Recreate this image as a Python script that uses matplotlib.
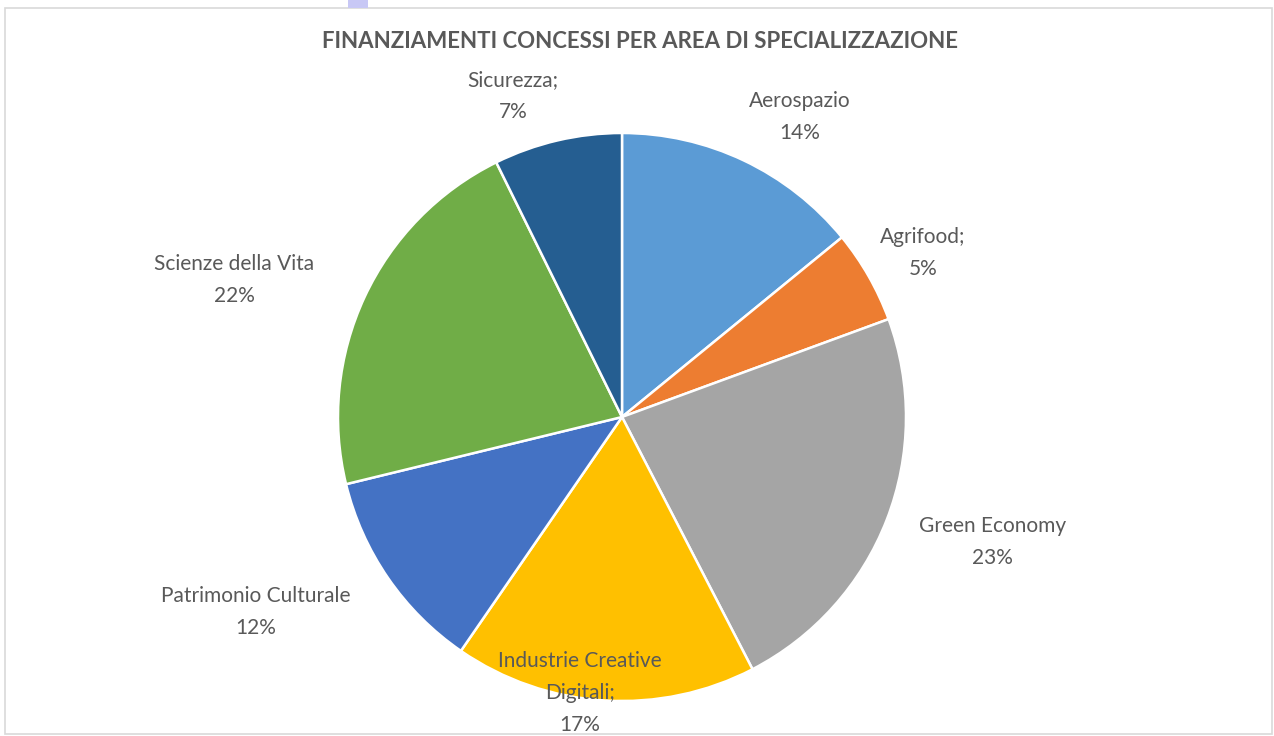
import matplotlib
matplotlib.use("Agg")
import matplotlib.pyplot as plt
from matplotlib.patches import Rectangle

# ---- data ----
categories = ["Aerospazio", "Agrifood;", "Green Economy", "Industrie Creative\nDigitali;",
              "Patrimonio Culturale", "Scienze della Vita", "Sicurezza;"]
values = [14.1, 5.3, 23.0, 17.2, 11.6, 21.5, 7.3]
pct_labels = [14, 5, 23, 17, 12, 22, 7]
title = "FINANZIAMENTI CONCESSI PER AREA DI SPECIALIZZAZIONE"

# ---- style ----
colors = ["#5B9BD5", "#ED7D31", "#A5A5A5", "#FFC000", "#4472C4", "#70AD47", "#255E91"]
label_pos = [(0.627, 1.056), (1.060, 0.577), (1.306, -0.440), (-0.148, -0.972),
             (-1.289, -0.687), (-1.366, 0.482), (-0.384, 1.130)]
text_color = "#595959"
FONT = "Lato"

W, H = 1274, 736
fig = plt.figure(figsize=(W / 100, H / 100), dpi=100)
fig.patch.set_facecolor("white")

# frame around chart
fig.add_artist(Rectangle((5 / W, 2 / H), 1267 / W, 726 / H, transform=fig.transFigure,
                         fill=False, edgecolor="#D9D9D9", linewidth=1.2))
fig.add_artist(Rectangle((348 / W, (H - 8) / H), 20 / W, 8 / H, transform=fig.transFigure,
                         facecolor="#C8C8F5", edgecolor="none"))

cx, cy, R = 622, 417, 284
ax = fig.add_axes([(cx - R) / W, (H - cy - R) / H, 2 * R / W, 2 * R / H])
wedges, _ = ax.pie(values, colors=colors, startangle=90, counterclock=False,
                   wedgeprops=dict(edgecolor="white", linewidth=1.8))
ax.set_xlim(-1, 1)
ax.set_ylim(-1, 1)
ax.set_aspect("equal")
ax.axis("off")

for name, p, (lx, ly) in zip(categories, pct_labels, label_pos):
    ax.text(lx, ly, f"{name}\n{p}%", ha="center", va="center", fontsize=15,
            family=FONT, color=text_color, linespacing=1.75, clip_on=False)

fig.text(640 / W, (H - 42) / H, title, ha="center", va="center", fontsize=16,
         fontweight="bold", family=FONT, color=text_color)

fig.savefig("out.png", dpi=100, facecolor="white")
